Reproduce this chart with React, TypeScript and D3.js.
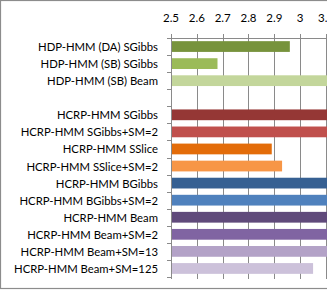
import React from 'react';
import * as d3 from 'd3';

const categories = [
  'HDP-HMM (DA) SGibbs',
  'HDP-HMM (SB) SGibbs',
  'HDP-HMM (SB) Beam',
  '',
  'HCRP-HMM SGibbs',
  'HCRP-HMM SGibbs+SM=2',
  'HCRP-HMM SSlice',
  'HCRP-HMM SSlice+SM=2',
  'HCRP-HMM BGibbs',
  'HCRP-HMM BGibbs+SM=2',
  'HCRP-HMM Beam',
  'HCRP-HMM Beam+SM=2',
  'HCRP-HMM Beam+SM=13',
  'HCRP-HMM Beam+SM=125',
];
const values = [2.96, 2.68, 3.2, null, 3.2, 3.2, 2.89, 2.93, 3.2, 3.2, 3.2, 3.2, 3.2, 3.05];
const colors = [
  '#77933c', '#9bbb59', '#c3d69b', 'none',
  '#953735', '#c0504d', '#e36c09', '#f79646',
  '#366092', '#4f81bd', '#604a7b', '#8064a2',
  '#b3a2c7', '#ccc1da',
];
const tickValues = [2.5, 2.6, 2.7, 2.8, 2.9, 3.0, 3.1];

const W = 327;
const H = 290;
const font = 'Lato, "Open Sans", sans-serif';

export default function App() {
  const x = d3.scaleLinear().domain([2.5, 3.1]).range([171, 326]);
  const keys = categories.map((c, i) => i + ':' + c);
  const top = 38;
  const bottom = 277;
  const y = d3.scaleBand().domain(keys).range([top, bottom]).paddingInner(0.37).paddingOuter(0.185);
  const step = (bottom - top) / categories.length;
  const fmt = d3.format('~g');

  return (
    <div style={{ position: 'fixed', left: 0, top: 0 }}>
      <svg width={W} height={H} style={{ display: 'block', background: '#fff' }}>
        {/* outer frame */}
        <rect x={0.5} y={0.5} width={W + 20} height={288} fill="#fff" stroke="#8c8c8c" strokeWidth={1.2} />

        {/* grid lines */}
        {tickValues.map(t => (
          <line key={'g' + t} x1={Math.round(x(t)) + 0.5} x2={Math.round(x(t)) + 0.5} y1={top - 4} y2={bottom + 2}
            stroke="#8a8a8a" strokeWidth={1} />
        ))}

        {/* bars */}
        {values.map((v, i) => v == null ? null : (
          <rect key={'b' + i} x={x(2.5)} y={y(keys[i])!} width={x(v) - x(2.5)} height={y.bandwidth()}
            fill={colors[i]} />
        ))}

        {/* top axis line */}
        <line x1={x(2.5)} x2={W + 10} y1={top + 0.5} y2={top + 0.5} stroke="#8a8a8a" strokeWidth={1} />
        {/* left axis line */}
        <line x1={171.5} x2={171.5} y1={top} y2={bottom} stroke="#8a8a8a" strokeWidth={1} />
        {d3.range(categories.length + 1).map(i => (
          <line key={'yt' + i} x1={167} x2={171} y1={Math.round(top + i * step) + 0.5}
            y2={Math.round(top + i * step) + 0.5} stroke="#8a8a8a" strokeWidth={1} />
        ))}

        {/* x tick labels */}
        {tickValues.map(t => (
          <text key={'t' + t} x={x(t)} y={17} textAnchor="middle" dominantBaseline="central"
            fontFamily={font} fontSize={11.5} fill="#000">{fmt(t)}</text>
        ))}

        {/* category labels */}
        {categories.map((c, i) => (
          <text key={'l' + i} x={158} y={y(keys[i])! + y.bandwidth() / 2} textAnchor="end" dominantBaseline="central"
            fontFamily={font} fontSize={11.3} fill="#000">{c}</text>
        ))}
      </svg>
    </div>
  );
}
